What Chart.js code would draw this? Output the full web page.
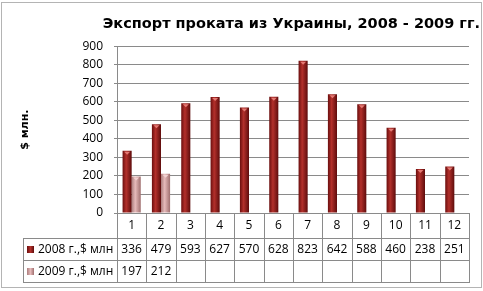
<!DOCTYPE html>
<html>
<head>
<meta charset="utf-8">
<script src="https://cdn.jsdelivr.net/npm/chart.js@4"></script>
<style>
    html, body { margin: 0; padding: 0; background: #fff; }
    #box { width: 483px; height: 291px; }
</style>
</head>
<body>
<div id="box"><canvas id="export"></canvas></div>
<script>
const months = ["1", "2", "3", "4", "5", "6", "7", "8", "9", "10", "11", "12"];
const exports2008 = [336, 479, 593, 627, 570, 628, 823, 642, 588, 460, 238, 251];
const exports2009 = [197, 212, null, null, null, null, null, null, null, null, null, null];
const seriesNames = ["2008 г.,$ млн", "2009 г.,$ млн"];
const yTicks = [0, 100, 200, 300, 400, 500, 600, 700, 800, 900];

const font = "'Open Sans', sans-serif";
const titleFont = "'DejaVu Sans', sans-serif";
const lineColor = "#8a8a8a";
const catPct = 0.62;

// colours for the cylinder look: edge, middle, edge
const shades = [
    ["#6a0e0e", "#b3302b", "#5e0c0c"],
    ["#ac7e7e", "#e6baba", "#a07070"]
];

function barGradient(c) {
    const chart = c.chart;
    const x = chart.scales.x;
    if (!x || !isFinite(x.width) || !x.width) return shades[c.datasetIndex][1];
    const cw = x.width / months.length;
    const w = cw * catPct / 2;
    const mid = x.getPixelForValue(c.dataIndex);
    const left = c.datasetIndex === 0 ? mid - w : mid;
    const g = chart.ctx.createLinearGradient(left, 0, left + w, 0);
    const s = shades[c.datasetIndex];
    g.addColorStop(0, s[0]);
    g.addColorStop(0.4, s[1]);
    g.addColorStop(1, s[2]);
    return g;
}

const tablePlugin = {
    id: "tablePlugin",
    beforeDraw(chart) {
        const ctx = chart.ctx;
        ctx.save();
        ctx.fillStyle = "#fff";
        ctx.fillRect(0, 0, chart.width, chart.height);
        ctx.strokeStyle = "#b4b4b4";
        ctx.lineWidth = 1;
        ctx.strokeRect(1.5, 2.5, 480, 285);
        ctx.restore();
    },
    afterDatasetsDraw(chart) {
        // little light caps on top of the bars
        const ctx = chart.ctx;
        ctx.save();
        chart.data.datasets.forEach((ds, di) => {
            chart.getDatasetMeta(di).data.forEach((bar, i) => {
                if (ds.data[i] == null) return;
                ctx.fillStyle = di === 0 ? "#e47a74" : "#f2d2d2";
                ctx.beginPath();
                ctx.moveTo(bar.x - 3, bar.y + 1);
                ctx.lineTo(bar.x + 3, bar.y + 1);
                ctx.lineTo(bar.x, bar.y + 4);
                ctx.closePath();
                ctx.fill();
            });
        });
        ctx.restore();
    },
    afterDraw(chart) {
        const ctx = chart.ctx;
        const area = chart.chartArea;
        const x = chart.scales.x;
        const cw = x.width / months.length;
        const top = x.bottom;
        const rowH = 22;
        const tableLeft = 23;

        ctx.save();
        ctx.strokeStyle = lineColor;
        ctx.lineWidth = 1;
        ctx.beginPath();
        for (let i = 0; i <= months.length; i++) {
            const px = Math.round(area.left + i * cw) + 0.5;
            ctx.moveTo(px, area.bottom);
            ctx.lineTo(px, top + rowH * 2);
        }
        ctx.moveTo(tableLeft + 0.5, top);
        ctx.lineTo(tableLeft + 0.5, top + rowH * 2);
        for (let r = 0; r <= 2; r++) {
            const py = Math.round(top + r * rowH) + 0.5;
            ctx.moveTo(tableLeft, py);
            ctx.lineTo(Math.round(area.right) + 1, py);
        }
        ctx.stroke();

        ctx.font = "12px " + font;
        ctx.fillStyle = "#000";
        ctx.textBaseline = "middle";
        const rows = [exports2008, exports2009];
        rows.forEach((vals, r) => {
            const cy = top + r * rowH + rowH / 2 + 1;
            ctx.textAlign = "center";
            vals.forEach((v, i) => {
                if (v == null) return;
                ctx.fillText(String(v), area.left + (i + 0.5) * cw, cy);
            });
            const sq = ctx.createLinearGradient(27, 0, 34, 0);
            sq.addColorStop(0, shades[r][0]);
            sq.addColorStop(0.5, shades[r][1]);
            sq.addColorStop(1, shades[r][2]);
            ctx.fillStyle = sq;
            ctx.fillRect(27, cy - 4, 7, 7);
            ctx.fillStyle = "#000";
            ctx.textAlign = "left";
            ctx.fillText(seriesNames[r], 38, cy);
        });
        ctx.restore();
    }
};

new Chart(document.getElementById("export").getContext("2d"), {
    type: "bar",
    data: {
        labels: months,
        datasets: [{
            label: seriesNames[0],
            data: exports2008,
            backgroundColor: barGradient,
            borderWidth: 0,
            categoryPercentage: catPct,
            barPercentage: 1
        }, {
            label: seriesNames[1],
            data: exports2009,
            backgroundColor: barGradient,
            borderWidth: 0,
            categoryPercentage: catPct,
            barPercentage: 1
        }]
    },
    options: {
        responsive: true,
        maintainAspectRatio: false,
        animation: false,
        layout: {
            padding: { left: 0, right: 3, top: 0, bottom: 53 }
        },
        scales: {
            x: {
                grid: { display: false, drawTicks: false, tickLength: 0 },
                border: { display: false },
                ticks: {
                    color: "#000",
                    font: { family: font, size: 12 },
                    padding: 5
                },
                afterFit(scale) { scale.height = 25; }
            },
            y: {
                min: 0,
                max: 900,
                afterBuildTicks(scale) {
                    scale.ticks = yTicks.map(v => ({ value: v }));
                },
                grid: {
                    color: lineColor,
                    tickLength: 3
                },
                border: { color: lineColor },
                ticks: {
                    color: "#000",
                    font: { family: font, size: 12 },
                    padding: 11
                },
                title: {
                    display: true,
                    text: "$ млн.",
                    color: "#000",
                    font: { family: titleFont, size: 11, weight: "bold" },
                    padding: { top: 19, bottom: 0 }
                },
                afterFit(scale) { scale.width = 117; }
            },
            y2: {
                position: "right",
                display: true,
                grid: { display: false },
                border: { display: false },
                ticks: { display: false },
                afterFit(scale) { scale.width = 11; }
            }
        },
        plugins: {
            legend: { display: false },
            tooltip: { enabled: false },
            title: {
                display: true,
                text: "Экспорт проката из Украины, 2008 - 2009 гг.",
                align: "end",
                color: "#000",
                font: { family: titleFont, size: 14.5, weight: "bold" },
                padding: { top: 16, bottom: 13 }
            }
        }
    },
    plugins: [tablePlugin]
});
</script>
</body>
</html>
